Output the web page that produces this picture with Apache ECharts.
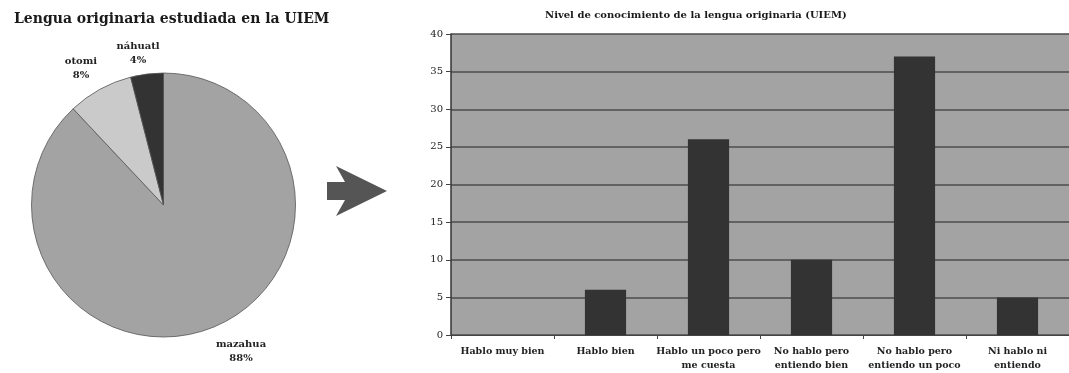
<!DOCTYPE html>
<html><head><meta charset="utf-8">
<script src="https://cdn.jsdelivr.net/npm/echarts@6/dist/echarts.min.js"></script>
<style>html,body{margin:0;padding:0;background:#fff}#c{width:1069px;height:373px}</style>
</head><body><div id="c"></div>
<script>
const pieNames = ['mazahua', 'otomi', 'náhuatl'];
const pieValues = [88, 8, 4];
const pieColors = ['#a3a3a3', '#cacaca', '#333333'];
const barCategories = ['Hablo muy bien', 'Hablo bien', 'Hablo un poco pero\nme cuesta', 'No hablo pero\nentiendo bien', 'No hablo pero\nentiendo un poco', 'Ni hablo ni\nentiendo'];
const barValues = [0, 6, 26, 10, 37, 5];
const yMin = 0, yMax = 40, yStep = 5;

const FONT = 'DejaVu Serif';
const labelPos = { 'mazahua': [241, 351], 'otomi': [81, 68], 'náhuatl': [138, 53] };

const chart = echarts.init(document.getElementById('c'), null, { renderer: 'canvas' });
chart.setOption({
  backgroundColor: '#ffffff',
  animation: false,
  title: [
    { text: 'Lengua originaria estudiada en la UIEM', left: 9, top: 7,
      textStyle: { fontFamily: FONT, fontSize: 14, fontWeight: 'bold', color: '#1a1a1a' } },
    { text: 'Nivel de conocimiento de la lengua originaria (UIEM)', left: 540, top: 5,
      textStyle: { fontFamily: FONT, fontSize: 10, fontWeight: 'bold', color: '#1a1a1a' } }
  ],
  graphic: [{
    type: 'polygon',
    shape: { points: [[327, 182], [345, 182], [336, 166], [387, 191], [336, 216], [345, 200], [327, 200]] },
    style: { fill: '#555555' }
  }],
  grid: { left: 451, right: -9, top: 34, bottom: 37.3, show: true, backgroundColor: '#a3a3a3', borderWidth: 0, containLabel: false },
  xAxis: {
    type: 'category', data: barCategories, boundaryGap: true,
    axisLine: { show: true, lineStyle: { color: '#444', width: 1 } },
    axisTick: { show: true, length: 4, lineStyle: { color: '#444' } },
    axisLabel: { interval: 0, fontFamily: FONT, fontSize: 9.5, fontWeight: 'bold', lineHeight: 14, margin: 10, color: '#222' }
  },
  yAxis: {
    type: 'value', min: yMin, max: yMax, interval: yStep,
    axisLine: { show: true, lineStyle: { color: '#333', width: 1.5 } },
    axisTick: { show: true, length: 5, lineStyle: { color: '#444' } },
    splitLine: { show: true, lineStyle: { color: '#4d4d4d', width: 1.5 } },
    axisLabel: { fontFamily: FONT, fontSize: 10, margin: 8, color: '#222' }
  },
  series: [
    {
      type: 'pie', center: [163.5, 205], radius: 132, startAngle: 90, clockwise: true,
      data: pieNames.map((n, i) => ({ name: n, value: pieValues[i], itemStyle: { color: pieColors[i] } })),
      itemStyle: { borderColor: '#555', borderWidth: 0.8 },
      label: { show: true, position: 'outside', formatter: '{b}\n{d}%', fontFamily: FONT, fontSize: 10, fontWeight: 'bold', lineHeight: 14, color: '#222', align: 'center', overflow: 'none', width: 80 },
      labelLine: { show: false },
      labelLayout: function (p) {
        const pos = labelPos[pieNames[p.dataIndex]];
        return { x: pos[0], y: pos[1], align: 'center', verticalAlign: 'middle' };
      },
      emphasis: { disabled: true }
    },
    {
      type: 'bar', data: barValues, barWidth: '40%',
      itemStyle: { color: '#333333' }
    }
  ]
});
</script></body></html>
